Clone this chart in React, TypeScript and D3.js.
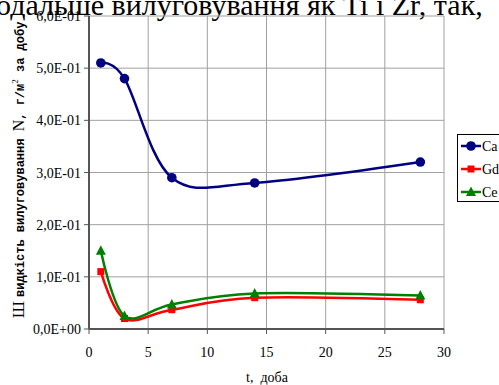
import React, { useEffect, useRef } from "react";
import * as d3 from "d3";

const days = [1, 3, 7, 14, 28];
const caValues = [0.51, 0.48, 0.29, 0.28, 0.32];
const gdValues = [0.11, 0.02, 0.037, 0.06, 0.056];
const ceValues = [0.15, 0.025, 0.047, 0.068, 0.064];
const xTicks = [0, 5, 10, 15, 20, 25, 30];
const yTicks = [0, 0.1, 0.2, 0.3, 0.4, 0.5, 0.6];

const series = [
  { name: "Ca", values: caValues, color: "#000080", marker: "circle" },
  { name: "Gd", values: gdValues, color: "#ff0000", marker: "square" },
  { name: "Ce", values: ceValues, color: "#008000", marker: "triangle" },
];

const fmtY = (v: number) =>
  v === 0 ? "0,0E+00" : (v * 10).toFixed(1).replace(".", ",") + "E-01";

const serif = "'Liberation Serif', 'Times New Roman', serif";
const mono = "'Courier New', 'Liberation Mono', monospace";

const App = () => {
  const svgRef = useRef<SVGSVGElement>(null);

  useEffect(() => {
    const svg = d3.select(svgRef.current);
    svg.selectAll("*").remove();

    const x = d3.scaleLinear().domain([0, 30]).range([89, 444]);
    const y = d3.scaleLinear().domain([0, 0.6]).range([329, 16]);

    // clipped line of document text above the chart
    svg
      .append("text")
      .attr("x", -4)
      .attr("y", 15)
      .style("font-family", serif)
      .style("font-size", "30px")
      .text("одальше вилуговування як Ti і Zr, так,");

    // grid
    const g = svg.append("g");
    g.selectAll(".vg")
      .data(xTicks.slice(1))
      .join("line")
      .attr("x1", (d) => x(d))
      .attr("x2", (d) => x(d))
      .attr("y1", y(0.6))
      .attr("y2", y(0))
      .attr("stroke", "#a0a0a0")
      .attr("stroke-width", 1);
    g.selectAll(".hg")
      .data(yTicks.slice(1))
      .join("line")
      .attr("x1", x(0))
      .attr("x2", x(30))
      .attr("y1", (d) => y(d))
      .attr("y2", (d) => y(d))
      .attr("stroke", "#a0a0a0")
      .attr("stroke-width", 1);

    // axes
    const axisColor = "#555";
    svg
      .append("line")
      .attr("x1", x(0))
      .attr("x2", x(0))
      .attr("y1", y(0.6))
      .attr("y2", y(0))
      .attr("stroke", axisColor)
      .attr("stroke-width", 2);
    svg
      .append("line")
      .attr("x1", x(0))
      .attr("x2", x(30))
      .attr("y1", y(0))
      .attr("y2", y(0))
      .attr("stroke", axisColor)
      .attr("stroke-width", 2);

    svg
      .selectAll(".yt")
      .data(yTicks)
      .join("line")
      .attr("x1", x(0) - 5)
      .attr("x2", x(0))
      .attr("y1", (d) => y(d))
      .attr("y2", (d) => y(d))
      .attr("stroke", axisColor)
      .attr("stroke-width", 1);
    svg
      .selectAll(".xt")
      .data(xTicks)
      .join("line")
      .attr("x1", (d) => x(d))
      .attr("x2", (d) => x(d))
      .attr("y1", y(0))
      .attr("y2", y(0) + 5)
      .attr("stroke", axisColor)
      .attr("stroke-width", 1);

    svg
      .selectAll(".yl")
      .data(yTicks)
      .join("text")
      .attr("x", 81)
      .attr("y", (d) => y(d) + 5)
      .attr("text-anchor", "end")
      .style("font-family", serif)
      .style("font-size", "14px")
      .text((d) => fmtY(d));
    svg
      .selectAll(".xl")
      .data(xTicks)
      .join("text")
      .attr("x", (d) => x(d))
      .attr("y", 357)
      .attr("text-anchor", "middle")
      .style("font-family", serif)
      .style("font-size", "14px")
      .text((d) => d);

    // axis titles
    svg
      .append("text")
      .attr("x", 267)
      .attr("y", 382)
      .attr("text-anchor", "middle")
      .style("font-family", serif)
      .style("font-size", "14px")
      .style("white-space", "pre")
      .text("t,  доба");

    const yt = svg
      .append("text")
      .attr("transform", "translate(24,170) rotate(-90)")
      .attr("text-anchor", "middle")
      .style("font-size", "12px")
      .style("white-space", "pre");
    yt.append("tspan").style("font-family", serif).style("font-size", "17px").text("Ш ");
    yt.append("tspan").style("font-family", mono).style("font-weight", "bold").text("видкість вилуговування ");
    yt.append("tspan").style("font-family", serif).style("font-size", "16px").text("N");
    yt.append("tspan").style("font-family", mono).style("font-weight", "bold").text(", г/м");
    yt.append("tspan").style("font-family", serif).style("font-size", "9px").attr("dy", -6).text("2");
    yt.append("tspan").style("font-family", mono).style("font-weight", "bold").attr("dy", 6).text(" за добу");

    // series
    const line = d3
      .line<number>()
      .x((_, i) => x(days[i]))
      .y((d) => y(d))
      .curve(d3.curveCardinal.tension(0));

    const drawMarker = (sel: any, s: any, cx: number, cy: number) => {
      if (s.marker === "circle") {
        sel.append("circle").attr("cx", cx).attr("cy", cy).attr("r", 4.8).attr("fill", s.color);
      } else if (s.marker === "square") {
        sel.append("rect").attr("x", cx - 3.5).attr("y", cy - 3.5).attr("width", 7).attr("height", 7).attr("fill", s.color);
      } else {
        sel
          .append("path")
          .attr("d", `M${cx},${cy - 5.5}L${cx + 5},${cy + 4}L${cx - 5},${cy + 4}Z`)
          .attr("fill", s.color);
      }
    };

    [series[1], series[2], series[0]].forEach((s) => {
      svg
        .append("path")
        .attr("d", line(s.values))
        .attr("fill", "none")
        .attr("stroke", s.color)
        .attr("stroke-width", 2.5);
      s.values.forEach((v, i) => drawMarker(svg, s, x(days[i]), y(v)));
    });

    // legend
    const lg = svg.append("g");
    lg.append("rect")
      .attr("x", 457.5)
      .attr("y", 134.5)
      .attr("width", 50)
      .attr("height", 67)
      .attr("fill", "white")
      .attr("stroke", "black")
      .attr("stroke-width", 1);
    series.forEach((s, i) => {
      const ly = 146 + i * 23;
      lg.append("line")
        .attr("x1", 461)
        .attr("x2", 481)
        .attr("y1", ly)
        .attr("y2", ly)
        .attr("stroke", s.color)
        .attr("stroke-width", 2.5);
      drawMarker(lg, s, 471, ly);
      lg.append("text")
        .attr("x", 482)
        .attr("y", ly + 5)
        .style("font-family", serif)
        .style("font-size", "14px")
        .text(s.name);
    });
  }, []);

  return (
    <svg
      ref={svgRef}
      width={499}
      height={385}
      style={{ position: "fixed", left: 0, top: 0, background: "white" }}
    />
  );
};

export default App;
